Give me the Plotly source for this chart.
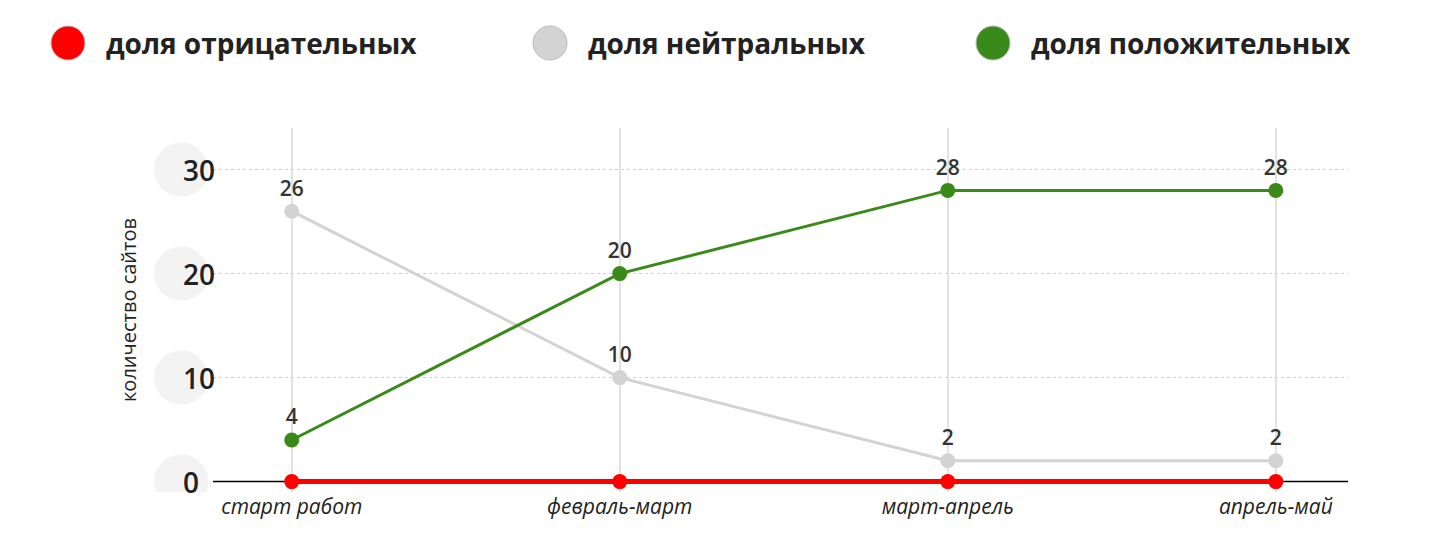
import plotly.graph_objects as go

categories = ["старт работ", "февраль-март", "март-апрель", "апрель-май"]
negative = [0, 0, 0, 0]
neutral = [26, 10, 2, 2]
positive = [4, 20, 28, 28]
yticks = [0, 10, 20, 30]
series_names = ["доля отрицательных", "доля нейтральных", "доля положительных"]
series_colors = ["#ff0000", "#d3d3d3", "#3a8a1a"]

lblfont = dict(size=21, color="#333", family="Open Sans", weight=600)

fig = go.Figure()
fig.add_trace(go.Scatter(x=categories, y=negative, mode="lines+markers", showlegend=False,
                         line=dict(color=series_colors[0], width=5), marker=dict(size=15, color=series_colors[0])))
fig.add_trace(go.Scatter(x=categories, y=neutral, mode="lines+markers+text", showlegend=False,
                         text=[str(v) for v in neutral], textposition="top center", textfont=lblfont,
                         line=dict(color=series_colors[1], width=3), marker=dict(size=15, color=series_colors[1])))
fig.add_trace(go.Scatter(x=categories, y=positive, mode="lines+markers+text", showlegend=False,
                         text=[str(v) for v in positive], textposition="top center", textfont=lblfont,
                         line=dict(color=series_colors[2], width=3), marker=dict(size=15, color=series_colors[2])))

shapes = [dict(type="line", xref="paper", yref="y", x0=0, x1=1, y0=0, y1=0,
               line=dict(color="black", width=1.5), layer="below")]
annotations = []
for t in yticks:
    shapes.append(dict(type="circle", xref="paper", yref="y", layer="below",
                       x0=-0.052, x1=-0.004, y0=t - 2.6, y1=t + 2.6,
                       fillcolor="#f3f3f3", line=dict(width=0)))
    annotations.append(dict(xref="paper", yref="y", x=-0.028, y=t, text=str(t), showarrow=False,
                            font=dict(size=28, color="#222", family="Open Sans", weight=600)))

# legend built by hand
leg_x = [60, 542, 985]
for name, col, px in zip(series_names, series_colors, leg_x):
    xp = (px - 205) / 1135
    yp = 1 + (120 - 35) / 364
    shapes.append(dict(type="circle", xref="paper", yref="paper",
                       x0=(px - 17 - 205) / 1135, x1=(px + 17 - 205) / 1135,
                       y0=yp - 17 / 364, y1=yp + 17 / 364,
                       fillcolor=col, line=dict(color="#bbbbbb", width=1)))
    annotations.append(dict(xref="paper", yref="paper", x=(px + 36 - 205) / 1135, y=yp,
                            xanchor="left", yanchor="middle", text=name, showarrow=False,
                            font=dict(size=28, color="#222", family="Open Sans", weight="bold")))

fig.update_layout(
    width=1440, height=559, plot_bgcolor="white", paper_bgcolor="white",
    margin=dict(l=205, r=100, t=120, b=75),
    font=dict(family="Open Sans", color="#222"),
    shapes=shapes, annotations=annotations, showlegend=False,
    xaxis=dict(range=[-0.24, 3.22], showgrid=True, gridcolor="#e3e3e3", gridwidth=1.5,
               showline=False, zeroline=False, ticks="",
               tickfont=dict(size=21, style="italic", color="#222")),
    yaxis=dict(range=[-1, 34], tickvals=[10, 20, 30], showticklabels=False, showgrid=True,
               gridcolor="#d0d0d0", griddash="dot", zeroline=False,
               title=dict(text="количество сайтов", font=dict(size=20), standoff=70)),
)
fig.write_html("out.html")
